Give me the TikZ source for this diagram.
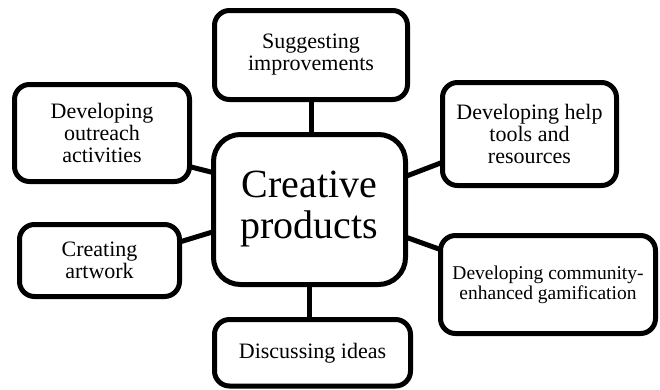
\documentclass[tikz,border=0pt]{standalone}
\usepackage{fontspec}
\setmainfont{Liberation Serif}
\begin{document}
\begin{tikzpicture}[x=1pt,y=-1pt,
  box/.style={draw=black,line width=5pt,rounded corners=15pt,fill=white,
    align=center,inner sep=0pt,outer sep=0pt,font=\fontsize{22}{22}\selectfont},
  bigbox/.style={box,rounded corners=27pt,font=\fontsize{40}{41}\selectfont},
  link/.style={line width=5pt,draw=black}]
\useasboundingbox (0,0) rectangle (660,389);
\node[bigbox,minimum width=192pt,minimum height=150pt] (c) at (309.5,209.5) {Creative\\products};
\node[box,minimum width=193pt,minimum height=89pt] (t) at (311,55) {Suggesting\\improvements};
\node[box,minimum width=175pt,minimum height=97pt] (o) at (102,133) {Developing\\outreach\\activities};
\node[box,minimum width=174pt,minimum height=103pt] (h) at (529.5,134) {Developing help\\tools and\\resources};
\node[box,minimum width=160pt,minimum height=72pt] (a) at (99.5,260.5) {Creating\\artwork};
\node[box,minimum width=215pt,minimum height=98pt,font=\fontsize{19.5}{20}\selectfont] (g) at (548,284.5) {Developing community-\\enhanced gamification};
\node[box,minimum width=196pt,minimum height=66.5pt] (d) at (312.5,352.75) {Discussing ideas};
\begin{scope}[on background layer/.try]
\end{scope}
\draw[link] (t.south) -- (t.south |- c.north);
\draw[link] (c.south) -- (c.south |- d.north);
\draw[link] (o.-21.25) -- (c.159.67);
\draw[link] (h.-162.05) -- (c.19.3);
\draw[link] (a.13.95) -- (c.-167.13);
\draw[link] (g.162.59) -- (c.-16.14);
\end{tikzpicture}
\end{document}
